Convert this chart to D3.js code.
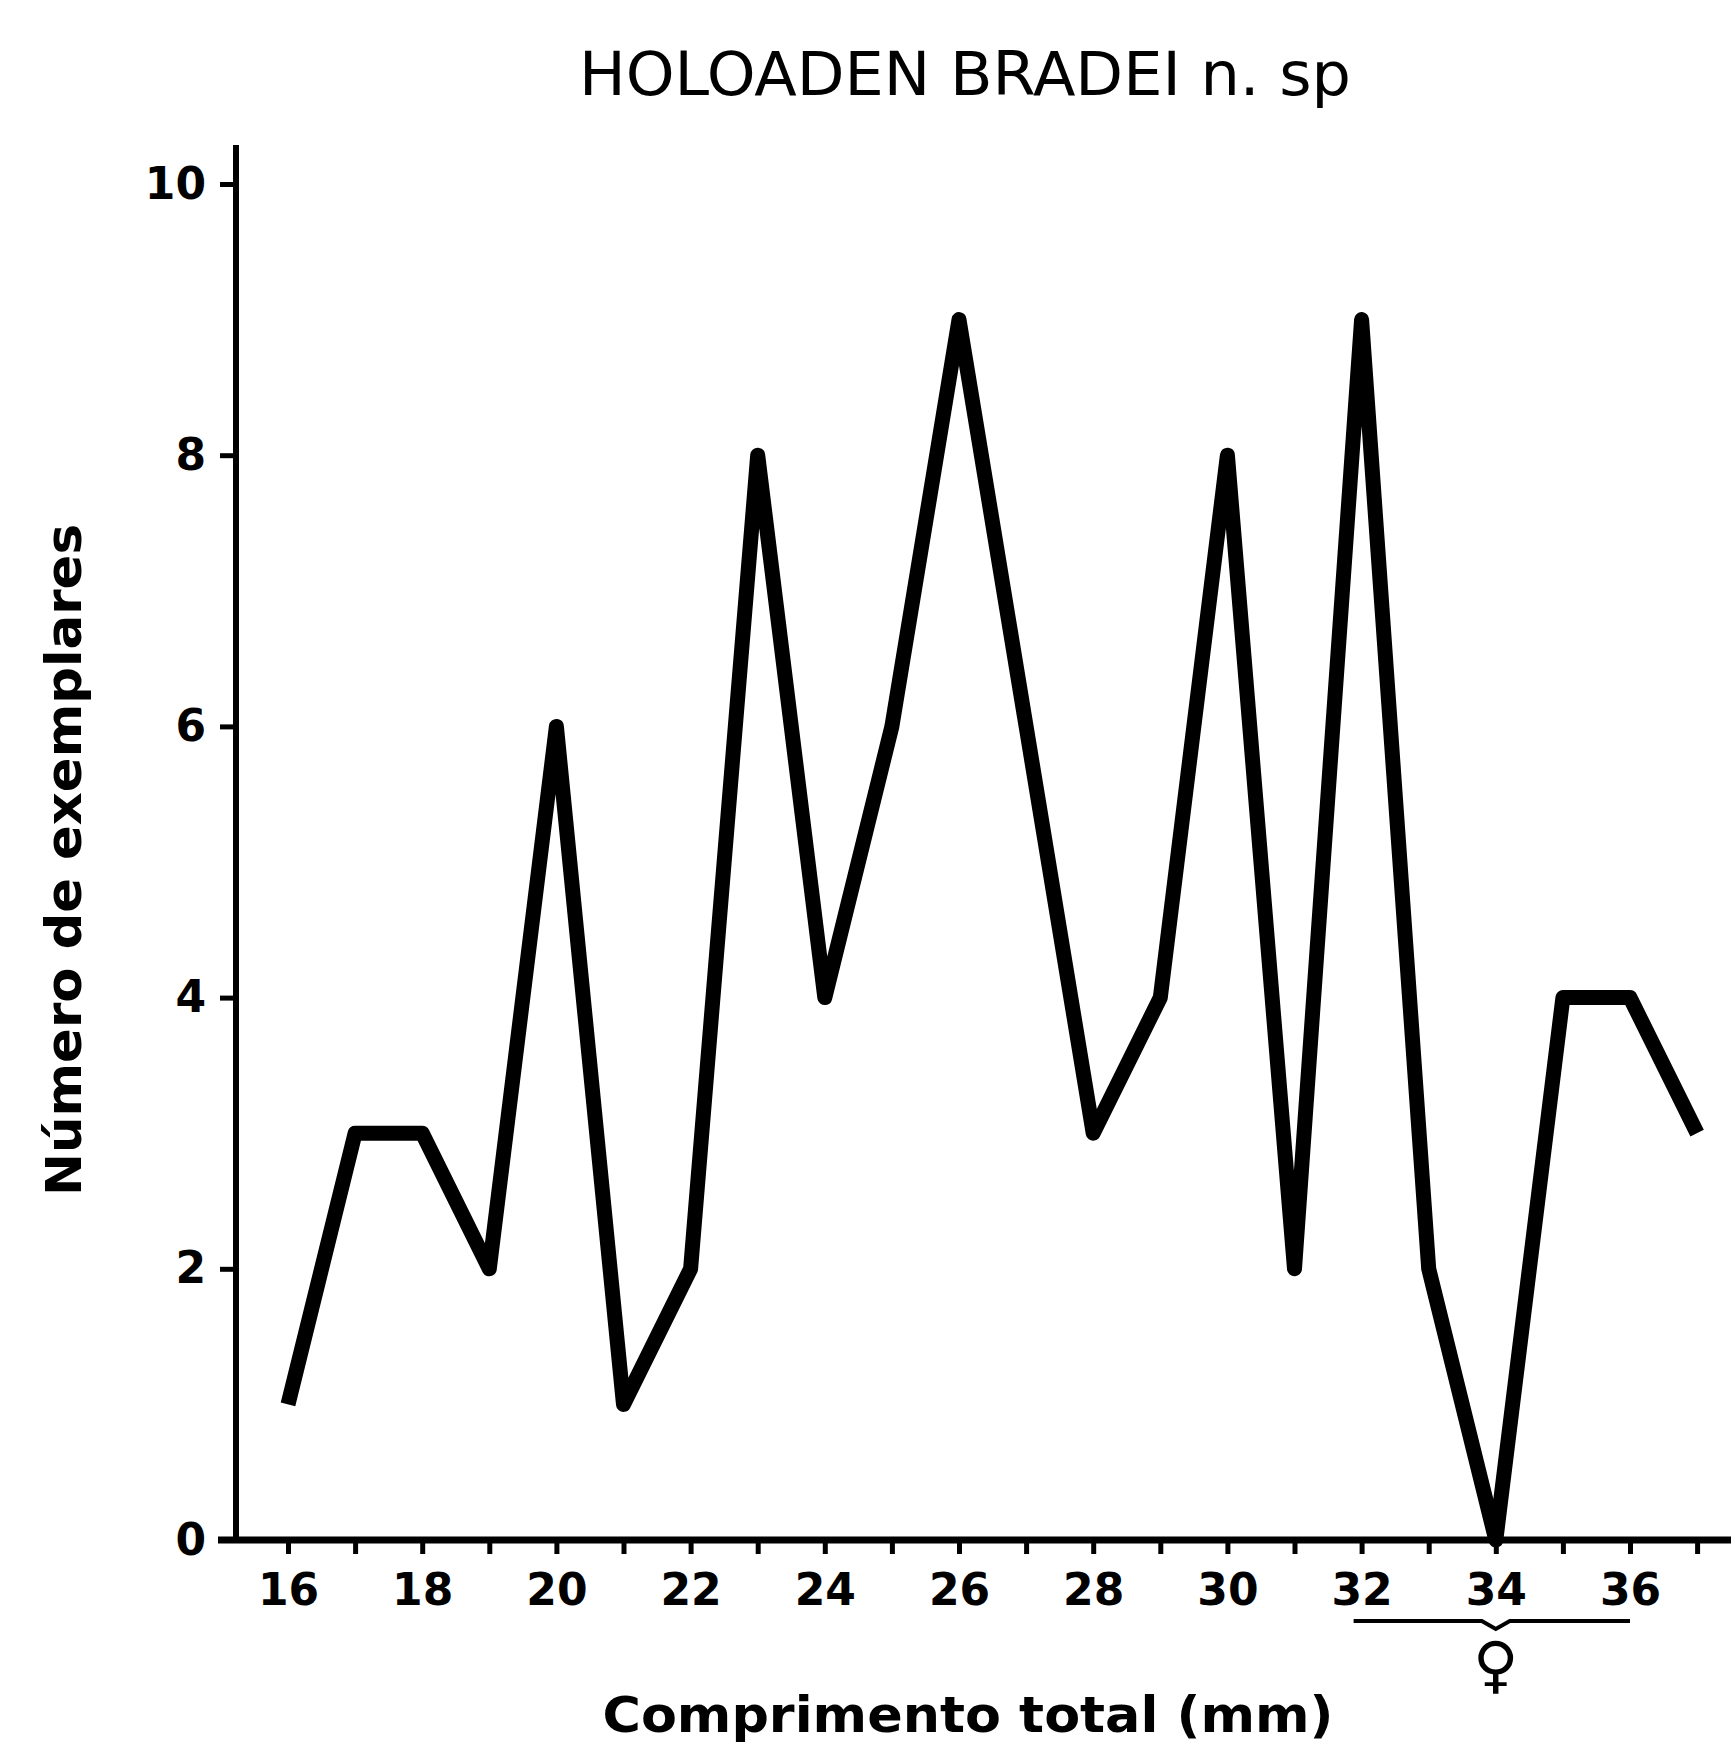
<!DOCTYPE html>
<html>
<head>
<meta charset="utf-8">
<script src="https://cdn.jsdelivr.net/npm/d3@7/dist/d3.min.js"></script>
<style>
  html, body { margin: 0; padding: 0; background: #fff; }
  svg { display: block; }
</style>
</head>
<body>
<script>
// ---- data ----
const lengths = [16,17,18,19,20,21,22,23,24,25,26,27,28,29,30,31,32,33,34,35,36,37];
const counts  = [1, 3, 3, 2, 6, 1, 2, 8, 4, 6, 9, 6, 3, 4, 8, 2, 9, 2, 0, 4, 4, 3];
const xTickValues = [16,17,18,19,20,21,22,23,24,25,26,27,28,29,30,31,32,33,34,35,36,37];
const xTickLabels = [16,18,20,22,24,26,28,30,32,34,36];
const yTickValues = [0,2,4,6,8,10];
const titleText = "HOLOADEN  BRADEI  n. sp";
const xLabelText = "Comprimento  total  (mm)";
const yLabelText = "Número  de  exemplares";
const femaleRange = [32, 36];
const femaleMark = 34;

const W = 1731, H = 1749;
const svg = d3.select("body").append("svg").attr("width", W).attr("height", H);

const x = d3.scaleLinear().domain([16, 36]).range([288, 1630]);
const y = d3.scaleLinear().domain([0, 10]).range([1540, 184]);

const font = "'DejaVu Sans', sans-serif";

// title
svg.append("text")
  .attr("x", 965).attr("y", 95)
  .attr("text-anchor", "middle")
  .attr("font-family", "'DejaVu Sans Condensed', 'DejaVu Sans', sans-serif")
  .attr("font-size", 60)
  .attr("textLength", 772).attr("lengthAdjust", "spacingAndGlyphs")
  .text(titleText);

// x axis
const xAxis = d3.axisBottom(x)
  .tickValues(xTickValues)
  .tickSize(14)
  .tickSizeOuter(0)
  .tickPadding(20)
  .tickFormat(d => xTickLabels.includes(d) ? d : "");
const gx = svg.append("g").attr("transform", `translate(0, ${y(0)})`).call(xAxis);
gx.select(".domain").remove();
gx.selectAll(".tick line").attr("stroke", "#000").attr("stroke-width", 5);
gx.selectAll(".tick text")
  .attr("font-family", font).attr("font-weight", "bold")
  .attr("font-size", 44).attr("fill", "#000");
gx.append("line")
  .attr("x1", x(x.invert(218))).attr("x2", x(x.invert(1731)))
  .attr("y1", 0).attr("y2", 0)
  .attr("stroke", "#000").attr("stroke-width", 7);

// y axis
const yAxis = d3.axisLeft(y)
  .tickValues(yTickValues)
  .tickSize(16)
  .tickSizeOuter(0)
  .tickPadding(14);
const gy = svg.append("g").attr("transform", "translate(236, 0)").call(yAxis);
gy.select(".domain").remove();
gy.selectAll(".tick line").attr("stroke", "#000").attr("stroke-width", 5);
gy.selectAll(".tick text")
  .attr("font-family", font).attr("font-weight", "bold")
  .attr("font-size", 44).attr("fill", "#000");
gy.append("line")
  .attr("x1", 0).attr("x2", 0)
  .attr("y1", y(y.invert(145))).attr("y2", y(0))
  .attr("stroke", "#000").attr("stroke-width", 6);

// data line
const line = d3.line()
  .x((d, i) => x(lengths[i]))
  .y(d => y(d));
svg.append("path")
  .datum(counts)
  .attr("d", line)
  .attr("fill", "none")
  .attr("stroke", "#000")
  .attr("stroke-width", 15)
  .attr("stroke-linejoin", "round")
  .attr("stroke-linecap", "butt");

// female bracket
const by = 1621;
svg.append("path")
  .attr("d", `M${x(femaleRange[0]) - 8},${by} L${x(femaleMark) - 14},${by} L${x(femaleMark)},${by + 8} L${x(femaleMark) + 14},${by} L${x(femaleRange[1])},${by}`)
  .attr("fill", "none").attr("stroke", "#000").attr("stroke-width", 4);
svg.append("text")
  .attr("x", x(femaleMark)).attr("y", 1686)
  .attr("text-anchor", "middle")
  .attr("font-family", font).attr("font-weight", "bold")
  .attr("font-size", 62)
  .text("♀");

// axis labels
svg.append("text")
  .attr("x", 968).attr("y", 1732)
  .attr("text-anchor", "middle")
  .attr("font-family", font).attr("font-weight", "bold")
  .attr("font-size", 50)
  .attr("textLength", 731).attr("lengthAdjust", "spacingAndGlyphs")
  .text(xLabelText);

svg.append("text")
  .attr("transform", "translate(81, 860) rotate(-90)")
  .attr("text-anchor", "middle")
  .attr("font-family", font).attr("font-weight", "bold")
  .attr("font-size", 50)
  .attr("textLength", 672).attr("lengthAdjust", "spacingAndGlyphs")
  .text(yLabelText);
</script>
</body>
</html>
